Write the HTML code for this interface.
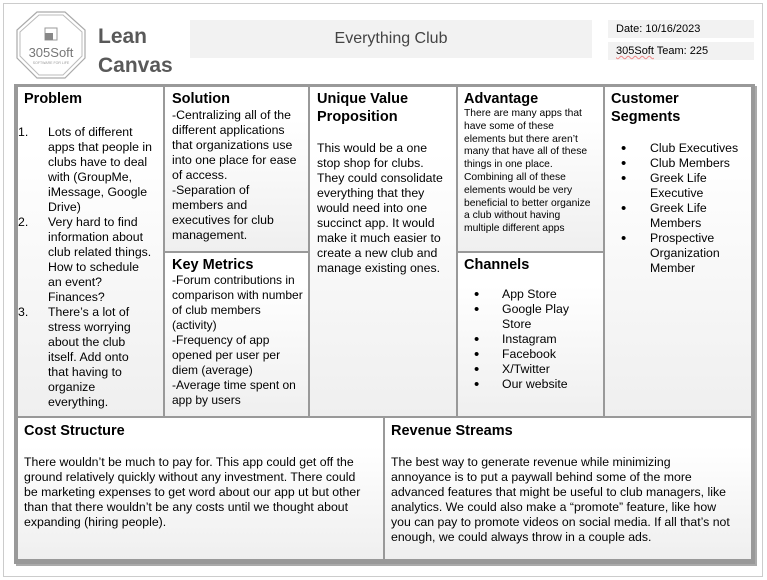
<!DOCTYPE html>
<html><head><meta charset="utf-8"><style>
body{margin:0;width:767px;height:580px;background:#fff;position:relative;overflow:hidden;font-family:"Liberation Sans",Arial,sans-serif;color:#000}
.a{position:absolute}
.frame{left:3px;top:3px;width:760px;height:574px;border:1px solid #ccc;box-sizing:border-box}
.cell{position:absolute;box-sizing:border-box;border:1px solid #999;background:linear-gradient(#fff 20%,#efefef)}
.h{position:absolute;font-weight:bold;font-size:14.5px;line-height:18px}
.t{position:absolute;font-size:12.3px;line-height:15px;white-space:nowrap}
.s{position:absolute;font-size:10.3px;line-height:12.8px;white-space:nowrap}
.row{position:relative;height:15px}
.row b{position:absolute;left:0;font-weight:normal}
.row i{position:absolute;left:0;font-style:normal;font-size:15px;line-height:15px}
.row span{position:absolute}
</style></head><body>
<div class="a frame"></div>
<svg class="a" style="left:15px;top:10px" width="72" height="70" viewBox="0 0 72 70">
<polygon points="22,2 50,2 70,20 70,48 50,68 22,68 2,48 2,20" fill="none" stroke="#aaa" stroke-width="1.2"/>
<polygon points="24,5 48,5 67,22 67,46 48,65 24,65 5,46 5,22" fill="none" stroke="#bbb" stroke-width="1"/>
<rect x="30" y="18" width="12" height="12" fill="none" stroke="#999"/>
<rect x="30" y="23" width="8" height="7" fill="#888"/>
<text x="36" y="47" font-size="13" fill="#777" text-anchor="middle" font-family="Liberation Sans">305Soft</text>
<text x="36" y="54" font-size="3.5" fill="#999" text-anchor="middle" font-family="Liberation Sans">SOFTWARE FOR LIFE</text>
</svg>
<div class="a" style="left:98px;top:22px;font-size:21px;line-height:29px;font-weight:bold;color:#595959">Lean<br>Canvas</div>
<div class="a" style="left:190px;top:20px;width:402px;height:38px;background:#f2f2f2;font-size:16px;line-height:38px;text-align:center;color:#444">Everything Club</div>
<div class="a" style="left:608px;top:20px;width:146px;height:18px;background:#f2f2f2;font-size:11px;line-height:18px;padding-left:8px;box-sizing:border-box">Date: 10/16/2023</div>
<div class="a" style="left:608px;top:42px;width:146px;height:18px;background:#f2f2f2;font-size:11px;line-height:18px;padding-left:8px;box-sizing:border-box"><span style="text-decoration:underline wavy #e88;text-decoration-thickness:1px">305Soft</span> Team: 225</div>

<div class="a" style="left:14px;top:84px;width:741px;height:480px;background:#999;box-shadow:2px 2px 0 #aaa"></div>
<div class="cell" style="left:17px;top:86px;width:147px;height:331px"></div>
<div class="cell" style="left:164px;top:86px;width:145px;height:166px"></div>
<div class="cell" style="left:164px;top:252px;width:145px;height:165px"></div>
<div class="cell" style="left:309px;top:86px;width:148px;height:331px"></div>
<div class="cell" style="left:457px;top:86px;width:147px;height:166px"></div>
<div class="cell" style="left:457px;top:252px;width:147px;height:165px"></div>
<div class="cell" style="left:604px;top:86px;width:148px;height:331px"></div>
<div class="cell" style="left:17px;top:417px;width:367px;height:143px"></div>
<div class="cell" style="left:384px;top:417px;width:368px;height:143px"></div>

<div class="h" style="left:24px;top:90px">Problem</div>
<div class="t" style="left:18px;top:125px;width:140px">
<div class="row"><b>1.</b><span style="left:30px">Lots of different</span></div>
<div class="row"><span style="left:30px">apps that people in</span></div>
<div class="row"><span style="left:30px">clubs have to deal</span></div>
<div class="row"><span style="left:30px">with (GroupMe,</span></div>
<div class="row"><span style="left:30px">iMessage, Google</span></div>
<div class="row"><span style="left:30px">Drive)</span></div>
<div class="row"><b>2.</b><span style="left:30px">Very hard to find</span></div>
<div class="row"><span style="left:30px">information about</span></div>
<div class="row"><span style="left:30px">club related things.</span></div>
<div class="row"><span style="left:30px">How to schedule</span></div>
<div class="row"><span style="left:30px">an event?</span></div>
<div class="row"><span style="left:30px">Finances?</span></div>
<div class="row"><b>3.</b><span style="left:30px">There’s a lot of</span></div>
<div class="row"><span style="left:30px">stress worrying</span></div>
<div class="row"><span style="left:30px">about the club</span></div>
<div class="row"><span style="left:30px">itself. Add onto</span></div>
<div class="row"><span style="left:30px">that having to</span></div>
<div class="row"><span style="left:30px">organize</span></div>
<div class="row"><span style="left:30px">everything.</span></div>
</div>

<div class="h" style="left:172px;top:90px">Solution</div>
<div class="t" style="left:172px;top:108px">-Centralizing all of the<br>different applications<br>that organizations use<br>into one place for ease<br>of access.<br>-Separation of<br>members and<br>executives for club<br>management.</div>

<div class="h" style="left:172px;top:256px">Key Metrics</div>
<div class="t" style="left:172px;top:273px;font-size:12px">-Forum contributions in<br>comparison with number<br>of club members<br>(activity)<br>-Frequency of app<br>opened per user per<br>diem (average)<br>-Average time spent on<br>app by users</div>

<div class="h" style="left:317px;top:90px">Unique Value<br>Proposition</div>
<div class="t" style="left:317px;top:141px">This would be a one<br>stop shop for clubs.<br>They could consolidate<br>everything that they<br>would need into one<br>succinct app. It would<br>make it much easier to<br>create a new club and<br>manage existing ones.</div>

<div class="h" style="left:464px;top:90px">Advantage</div>
<div class="s" style="left:464px;top:108px">There are many apps that<br>have some of these<br>elements but there aren’t<br>many that have all of these<br>things in one place.<br>Combining all of these<br>elements would be very<br>beneficial to better organize<br>a club without having<br>multiple different apps</div>

<div class="h" style="left:464px;top:256px">Channels</div>
<div class="t" style="left:474px;top:287px;width:120px">
<div class="row"><i>•</i><span style="left:28px">App Store</span></div>
<div class="row"><i>•</i><span style="left:28px">Google Play</span></div>
<div class="row"><span style="left:28px">Store</span></div>
<div class="row"><i>•</i><span style="left:28px">Instagram</span></div>
<div class="row"><i>•</i><span style="left:28px">Facebook</span></div>
<div class="row"><i>•</i><span style="left:28px">X/Twitter</span></div>
<div class="row"><i>•</i><span style="left:28px">Our website</span></div>
</div>

<div class="h" style="left:611px;top:90px">Customer<br>Segments</div>
<div class="t" style="left:621px;top:141px;width:125px">
<div class="row"><i>•</i><span style="left:29px">Club Executives</span></div>
<div class="row"><i>•</i><span style="left:29px">Club Members</span></div>
<div class="row"><i>•</i><span style="left:29px">Greek Life</span></div>
<div class="row"><span style="left:29px">Executive</span></div>
<div class="row"><i>•</i><span style="left:29px">Greek Life</span></div>
<div class="row"><span style="left:29px">Members</span></div>
<div class="row"><i>•</i><span style="left:29px">Prospective</span></div>
<div class="row"><span style="left:29px">Organization</span></div>
<div class="row"><span style="left:29px">Member</span></div>
</div>

<div class="h" style="left:24px;top:422px">Cost Structure</div>
<div class="t" style="left:24px;top:455px">There wouldn’t be much to pay for. This app could get off the<br>ground relatively quickly without any investment. There could<br>be marketing expenses to get word about our app ut but other<br>than that there wouldn’t be any costs until we thought about<br>expanding (hiring people).</div>

<div class="h" style="left:391px;top:422px">Revenue Streams</div>
<div class="t" style="left:391px;top:455px">The best way to generate revenue while minimizing<br>annoyance is to put a paywall behind some of the more<br>advanced features that might be useful to club managers, like<br>analytics. We could also make a “promote” feature, like how<br>you can pay to promote videos on social media. If all that’s not<br>enough, we could always throw in a couple ads.</div>
</body></html>
